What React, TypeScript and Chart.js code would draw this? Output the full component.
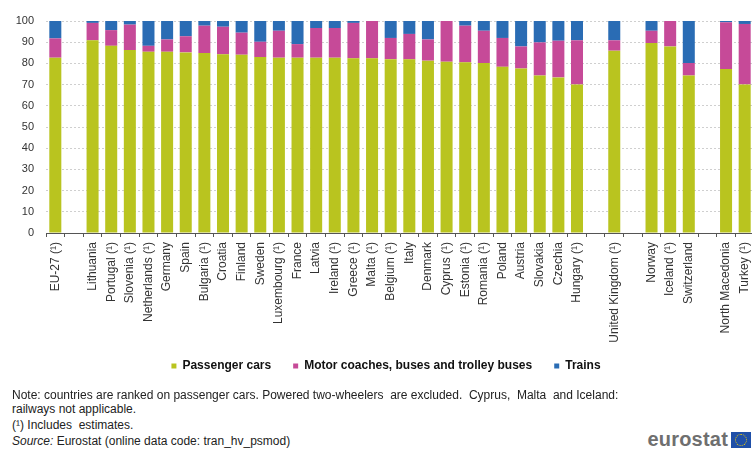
import React, { useEffect, useRef } from "react";
import { Chart, registerables } from "chart.js";

Chart.register(...registerables);

const categories = [
  "EU-27 (¹)", "", "Lithuania", "Portugal (¹)", "Slovenia (¹)", "Netherlands (¹)", "Germany", "Spain",
  "Bulgaria (¹)", "Croatia", "Finland", "Sweden", "Luxembourg (¹)", "France", "Latvia", "Ireland (¹)",
  "Greece (¹)", "Malta (¹)", "Belgium (¹)", "Italy", "Denmark", "Cyprus (¹)", "Estonia (¹)", "Romania (¹)",
  "Poland", "Austria", "Slovakia", "Czechia", "Hungary (¹)", "", "United Kingdom (¹)", "", "Norway",
  "Iceland (¹)", "Switzerland", "", "North Macedonia", "Turkey (¹)",
];

const passengerCars = [
  82.7, null, 90.9, 88.3, 86.3, 85.5, 85.5, 85.2, 84.9, 84.3, 84.1, 83.0, 82.7, 82.7, 82.7, 82.7,
  82.4, 82.4, 82.0, 81.9, 81.3, 80.8, 80.5, 80.2, 78.4, 77.6, 74.3, 73.4, 70.1, null, 86.0, null,
  89.6, 88.0, 74.3, null, 77.3, 70.1,
];

const busesCoaches = [
  9.1, null, 8.2, 7.4, 12.0, 2.8, 5.8, 7.6, 12.9, 13.0, 10.4, 7.2, 12.7, 6.4, 14.0, 14.0,
  16.7, 17.6, 10.0, 12.0, 10.0, 19.2, 17.3, 15.2, 13.6, 10.4, 15.6, 17.3, 20.8, null, 4.9, null,
  5.8, 12.0, 5.9, null, 22.1, 28.5,
];

const trains = [
  8.2, null, 0.9, 4.3, 1.7, 11.7, 8.7, 7.2, 2.2, 2.7, 5.5, 9.8, 4.6, 10.9, 3.3, 3.3,
  0.9, 0, 8.0, 6.1, 8.7, 0, 2.2, 4.6, 8.0, 12.0, 10.1, 9.3, 9.1, null, 9.1, null,
  4.6, 0, 19.8, null, 0.6, 1.4,
];

const yTicks = [0, 10, 20, 30, 40, 50, 60, 70, 80, 90, 100];

const seriesNames = ["Passenger cars", "Motor coaches, buses and trolley buses", "Trains"];
const seriesColors = ["#b9c41f", "#c64a98", "#2a6cb4"];

const FONT = "'Liberation Sans', Arial, sans-serif";

const legendShift = {
  id: "legendShift",
  afterLayout(chart: any) {
    const lg = chart.legend;
    if (lg) {
      lg.left += 9;
      lg.right += 9;
      lg.top -= 15;
      lg.bottom -= 15;
    }
  },
};

export default function App() {
  const canvasRef = useRef<HTMLCanvasElement | null>(null);

  useEffect(() => {
    if (!canvasRef.current) return;
    const values = [passengerCars, busesCoaches, trains];
    const chart = new Chart(canvasRef.current, {
      type: "bar",
      plugins: [legendShift],
      data: {
        labels: categories,
        datasets: seriesNames.map((name, i) => ({
          label: name,
          data: values[i],
          backgroundColor: seriesColors[i],
          borderWidth: 0,
          barPercentage: 0.645,
          categoryPercentage: 1,
        })),
      },
      options: {
        responsive: false,
        animation: false,
        layout: { padding: { left: 0, right: 16, top: 21, bottom: 0 } },
        plugins: {
          legend: {
            position: "bottom",
            labels: {
              boxWidth: 5,
              boxHeight: 5,
              padding: 22,
              color: "#111",
              font: { family: FONT, size: 12, weight: "bold" },
            },
          },
          tooltip: { enabled: false },
        },
        scales: {
          x: {
            stacked: true,
            offset: true,
            grid: {
              drawOnChartArea: false,
              drawTicks: true,
              tickLength: 4,
              color: "#555",
              offset: true,
            },
            border: { display: true, color: "#555", width: 1 },
            ticks: {
              autoSkip: false,
              minRotation: 90,
              maxRotation: 90,
              padding: 5,
              color: "#333",
              font: { family: FONT, size: 12 },
            },
            afterFit: (scale: any) => {
              scale.height = 120;
            },
          },
          y: {
            stacked: true,
            min: 0,
            max: 100,
            afterBuildTicks: (scale: any) => {
              scale.ticks = yTicks.map((v) => ({ value: v }));
            },
            grid: {
              color: "#cfcfcf",
              drawTicks: false,
            },
            border: { display: false, dash: [2, 2] },
            ticks: {
              padding: 12,
              color: "#333",
              font: { family: FONT, size: 11 },
            },
            afterFit: (scale: any) => {
              scale.width = 46;
            },
          },
        },
      },
    });
    return () => chart.destroy();
  }, []);

  const noteStyle: React.CSSProperties = {
    position: "absolute",
    left: 12,
    fontSize: 12,
    lineHeight: "14px",
    color: "#222",
    whiteSpace: "pre",
  };

  return (
    <div
      style={{
        position: "fixed",
        left: 0,
        top: 0,
        width: 752,
        height: 450,
        overflow: "hidden",
        background: "#fff",
        fontFamily: FONT,
      }}
    >
      <canvas ref={canvasRef} width={770} height={397} style={{ position: "absolute", left: 0, top: 0 }} />
      <div style={{ ...noteStyle, top: 388 }}>
        {"Note: countries are ranked on passenger cars. Powered two-wheelers  are excluded.  Cyprus,  Malta  and Iceland:"}
      </div>
      <div style={{ ...noteStyle, top: 402 }}>{"railways not applicable."}</div>
      <div style={{ ...noteStyle, top: 418 }}>{"(¹) Includes  estimates."}</div>
      <div style={{ ...noteStyle, top: 434 }}>
        <i>Source:</i>
        {" Eurostat (online data code: tran_hv_psmod)"}
      </div>
      <div
        style={{
          position: "absolute",
          right: 24,
          top: 428,
          fontSize: 20,
          fontWeight: "bold",
          color: "#6f6f6f",
          letterSpacing: 0.2,
          lineHeight: "22px",
        }}
      >
        eurostat
      </div>
      <div
        style={{
          position: "absolute",
          left: 731,
          top: 432,
          width: 20,
          height: 16,
          background: "#1f4fa8",
        }}
      >
        <div
          style={{
            position: "absolute",
            left: 4,
            top: 2,
            width: 10,
            height: 10,
            borderRadius: "50%",
            border: "1px dotted #f3d200",
          }}
        />
      </div>
    </div>
  );
}
